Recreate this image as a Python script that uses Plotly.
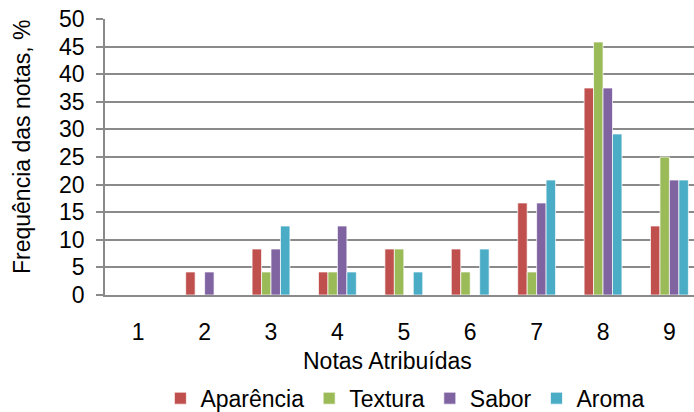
import plotly.graph_objects as go

# Grades awarded (hedonic scale 1-9) and frequency of each grade, %
notas = [1, 2, 3, 4, 5, 6, 7, 8, 9]
aparencia = [0, 4.17, 8.33, 4.17, 8.33, 8.33, 16.67, 37.5, 12.5]
textura = [0, 0, 4.17, 4.17, 8.33, 4.17, 4.17, 45.83, 25.0]
sabor = [0, 4.17, 8.33, 12.5, 0, 0, 16.67, 37.5, 20.83]
aroma = [0, 0, 12.5, 4.17, 4.17, 8.33, 20.83, 29.17, 20.83]

series = [
    ("Aparência", aparencia, "#C0504D"),
    ("Textura", textura, "#9BBB59"),
    ("Sabor", sabor, "#8064A2"),
    ("Aroma", aroma, "#4BACC6"),
]

FONT = "Liberation Sans, Arial, sans-serif"
FS = 23
GRID = "#8a8a8a"

fig = go.Figure()
for name, vals, color in series:
    fig.add_trace(go.Bar(
        x=notas, y=vals, name=name,
        marker=dict(color=color, line=dict(color="rgba(255,255,255,0.7)", width=1)),
    ))

fig.update_layout(
    width=694, height=412,
    margin=dict(l=105, r=0, t=19, b=117, autoexpand=False),
    paper_bgcolor="white", plot_bgcolor="white",
    barmode="group", bargap=0.43, bargroupgap=0,
    font=dict(family=FONT, size=FS, color="black"),
    showlegend=True,
    legend=dict(
        orientation="h", x=0.51, xanchor="center", y=-0.374, yanchor="middle",
        font=dict(size=FS), itemwidth=30, traceorder="normal",
        bgcolor="rgba(0,0,0,0)",
    ),
    xaxis=dict(
        range=[0.5, 9.37], tickmode="array", tickvals=notas,
        ticktext=[str(n) for n in notas],
        showgrid=False, zeroline=False,
        showline=True, linecolor=GRID, linewidth=1.5,
        ticks="", ticklabelstandoff=16,
        tickfont=dict(size=FS), automargin=False,
    ),
    yaxis=dict(
        range=[0, 50], dtick=5, tick0=0,
        showgrid=True, gridcolor=GRID, gridwidth=1.5,
        zeroline=False,
        showline=True, linecolor=GRID, linewidth=1.5,
        ticks="outside", ticklen=7, tickcolor=GRID, tickwidth=1.5,
        ticklabelstandoff=7,
        tickfont=dict(size=FS), automargin=False,
    ),
    annotations=[
        dict(text="Frequência das notas, %", xref="paper", yref="paper",
             x=-0.141, y=0.536, xanchor="center", yanchor="middle",
             textangle=-90, showarrow=False, font=dict(size=FS)),
        dict(text="Notas Atribuídas", xref="paper", yref="paper",
             x=0.48, y=-0.24, xanchor="center", yanchor="middle",
             showarrow=False, font=dict(size=FS)),
    ],
)

fig.write_html("out.html")
